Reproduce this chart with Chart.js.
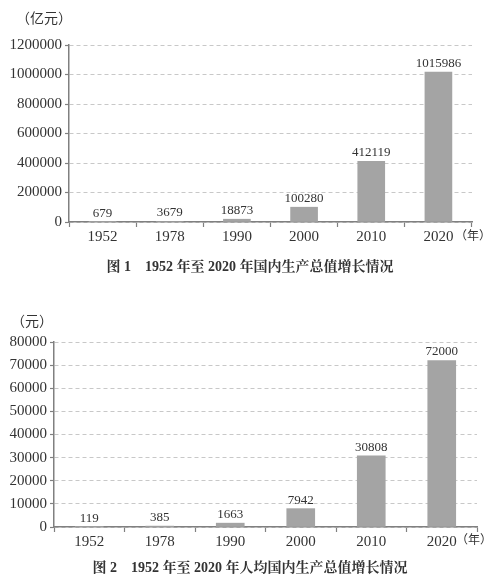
<!DOCTYPE html>
<html><head><meta charset="utf-8">
<script src="https://cdn.jsdelivr.net/npm/chart.js@4/dist/chart.umd.min.js"></script>
<style>
html,body{margin:0;padding:0;background:#fff;width:499px;height:586px;overflow:hidden;}
.box{position:absolute;left:0;width:499px;}
</style></head>
<body>
<div class="box" style="top:0;height:290px"><canvas id="c1"></canvas></div>
<div class="box" style="top:290px;height:296px"><canvas id="c2"></canvas></div>
<script>
const years = ['1952','1978','1990','2000','2010','2020'];
const gdpTotal = [679, 3679, 18873, 100280, 412119, 1015986];
const gdpPerCapita = [119, 385, 1663, 7942, 30808, 72000];
const yTicks1 = [0, 200000, 400000, 600000, 800000, 1000000, 1200000];
const yTicks2 = [0, 10000, 20000, 30000, 40000, 50000, 60000, 70000, 80000];
const unit1 = '（亿元）';
const unit2 = '（元）';
const xUnit = '（年）';
const caption1 = '图 1    1952 年至 2020 年国内生产总值增长情况';
const caption2 = '图 2    1952 年至 2020 年人均国内生产总值增长情况';

const SERIF = "'Liberation Serif','Noto Serif CJK SC','Noto Sans CJK SC',serif";
const TXT = '#333333';

const valueLabels = {
  id: 'valueLabels',
  afterDatasetsDraw(chart) {
    const ctx = chart.ctx;
    const meta = chart.getDatasetMeta(0);
    const data = chart.data.datasets[0].data;
    ctx.save();
    ctx.font = "13px " + SERIF;
    ctx.fillStyle = TXT;
    ctx.textAlign = 'center';
    ctx.textBaseline = 'bottom';
    meta.data.forEach((bar, i) => {
      ctx.fillText(String(data[i]), bar.x, bar.y - 2);
    });
    ctx.restore();
  }
};

const extraText = {
  id: 'extraText',
  afterDraw(chart, args, opts) {
    const ctx = chart.ctx;
    ctx.save();
    ctx.fillStyle = TXT;
    ctx.textBaseline = 'middle';
    ctx.font = "14px 'Noto Sans CJK SC',sans-serif";
    ctx.textAlign = 'left';
    ctx.fillText(opts.unit, opts.unitX, opts.unitY);
    ctx.font = "12px 'Noto Sans CJK SC',sans-serif";
    ctx.fillText(xUnit, opts.xuX, opts.xuY);
    ctx.font = "bold 14px " + SERIF;
    ctx.textAlign = 'center';
    ctx.fillText(opts.caption, 250, opts.capY);
    ctx.restore();
  }
};

function makeChart(id, values, ticks, yWidth, pad, extra) {
  return new Chart(document.getElementById(id), {
    type: 'bar',
    data: {
      labels: years,
      datasets: [{ data: values, backgroundColor: '#a4a4a4', borderWidth: 0, barThickness: pad.bar }]
    },
    options: {
      responsive: true,
      maintainAspectRatio: false,
      animation: false,
      layout: { padding: { left: 0, right: pad.right, top: pad.top, bottom: pad.bottom } },
      plugins: { legend: { display: false }, tooltip: { enabled: false }, title: { display: false }, extraText: extra },
      scales: {
        x: {
          grid: { display: true, drawOnChartArea: false, drawTicks: true, tickLength: 5, color: '#808080', tickColor: '#808080', tickWidth: 1.2 },
          border: { display: true, color: '#808080', width: 1.5 },
          ticks: { color: TXT, font: { family: SERIF, size: 15 }, padding: 1, maxRotation: 0, autoSkip: false },
          afterFit(s) { s.height = 25; }
        },
        y: {
          min: 0, max: ticks[ticks.length - 1],
          afterBuildTicks(s) { s.ticks = ticks.map(v => ({ value: v })); },
          grid: { color: '#c8c8c8', lineWidth: 1, tickLength: 4, tickColor: '#808080', tickWidth: 1.2, tickBorderDash: [] },
          border: { display: true, color: '#808080', width: 1.5, dash: [4, 3] },
          ticks: { color: TXT, font: { family: SERIF, size: 15 }, padding: 3, callback: v => String(v) },
          afterFit(s) { s.width = yWidth; }
        }
      }
    },
    plugins: [valueLabels, extraText]
  });
}

makeChart('c1', gdpTotal, yTicks1, 69, { right: 27, top: 45, bottom: 43, bar: 27 },
  { unit: unit1, unitX: 16, unitY: 18, xuX: 455, xuY: 235, caption: caption1, capY: 267 });
makeChart('c2', gdpPerCapita, yTicks2, 54, { right: 22, top: 52, bottom: 34, bar: 28 },
  { unit: unit2, unitX: 11, unitY: 31, xuX: 456, xuY: 249, caption: caption2, capY: 278 });
</script>
</body></html>
